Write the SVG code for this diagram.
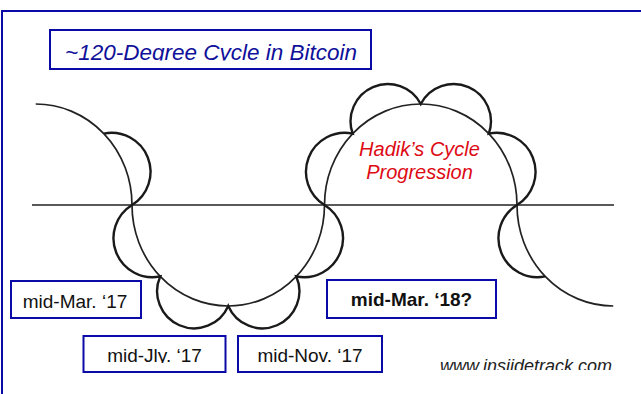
<svg xmlns="http://www.w3.org/2000/svg" width="641" height="394" viewBox="0 0 641 394">
<style>
text{font-family:"Liberation Sans",Arial,sans-serif}
.box{fill:#fff;stroke:#0a0aa6;stroke-width:2}
.lbl{font-size:19px;fill:#111;text-anchor:middle}
.big{fill:none;stroke:#222;stroke-width:1.7}
.sc{fill:none;stroke:#1a1a1a;stroke-width:2.4}
</style>
<defs>
<clipPath id="clipTitle"><rect x="50" y="30" width="321" height="30.6"/></clipPath>
<clipPath id="clipLow"><rect x="0" y="330" width="641" height="33"/></clipPath>
<clipPath id="clipUrl"><rect x="400" y="340" width="241" height="30"/></clipPath>
</defs>
<rect width="641" height="394" fill="#fff"/>
<rect id="frame" x="2" y="11" width="700" height="500" fill="none" stroke="#0a0aa8" stroke-width="2"/>

<g id="cycles">
<line x1="32" y1="205" x2="614" y2="205" stroke="#222" stroke-width="1.6"/>
<path class="big" d="M35.75,104 A96.25,101 0 0 1 132,205 A96.25,101 0 0 0 324.5,205 A96.25,101 0 0 1 517,205 A96.25,101 0 0 0 613.25,306"/>
<path class="sc" d="M103.81,133.58 A39,39 0 0 1 132,205"/>
<path class="sc" d="M132,205 A39,39 0 0 0 160.19,276.42 A37,37 0 0 0 228.25,306 A37,37 0 0 0 296.31,276.42 A39,39 0 0 0 324.5,205"/>
<path class="sc" d="M324.5,205 A39,39 0 0 1 352.69,133.58 A37.2,37.2 0 0 1 420.75,104 A37.2,37.2 0 0 1 488.81,133.58 A39,39 0 0 1 517,205"/>
<path class="sc" d="M517,205 A39,39 0 0 0 545.19,276.42"/>
</g>

<g id="title">
<rect class="box" x="50" y="30" width="321" height="39" stroke-width="1.6"/>
<text x="65" y="60" font-size="22.5" font-style="italic" fill="#10109a" clip-path="url(#clipTitle)">~120-Degree Cycle in Bitcoin</text>
</g>

<g id="hadik">
<text x="419.5" y="155.7" font-size="20" font-style="italic" fill="#dd0a14" text-anchor="middle">Hadik’s Cycle</text>
<text x="419.5" y="178.5" font-size="20" font-style="italic" fill="#dd0a14" text-anchor="middle">Progression</text>
</g>

<g id="mar17">
<rect class="box" x="11" y="281" width="130" height="37"/>
<text class="lbl" x="75" y="307.5">mid-Mar. ‘17</text>
</g>

<g id="jly17">
<rect class="box" x="83.5" y="336" width="142" height="36"/>
<text class="lbl" x="154.5" y="361.5" clip-path="url(#clipLow)">mid-Jly. ‘17</text>
</g>

<g id="nov17">
<rect class="box" x="238" y="336" width="144" height="36"/>
<text class="lbl" x="310" y="361.5" clip-path="url(#clipLow)">mid-Nov. ‘17</text>
</g>

<g id="mar18">
<rect class="box" x="327" y="280" width="169" height="38"/>
<text class="lbl" x="411.5" y="306" font-weight="bold">mid-Mar. ‘18?</text>
</g>

<g id="url">
<text x="440" y="372.2" font-size="18" font-style="italic" fill="#222" clip-path="url(#clipUrl)">www.insiidetrack.com</text>
</g>
</svg>
